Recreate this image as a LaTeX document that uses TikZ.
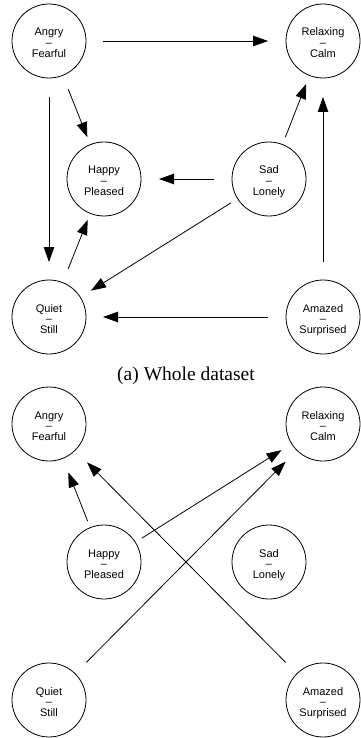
\documentclass[tikz,border=0pt]{standalone}
\usepackage{fontspec}
\setmainfont{Liberation Serif}
\newfontfamily\labelfont{Liberation Sans}
\usetikzlibrary{arrows.meta}
\newcommand\emotxt[2]{\rule{0pt}{11.4pt}\smash{#1}\\–\\\smash{#2}}
\begin{document}
\begin{tikzpicture}[x=1pt,y=-1pt,
  emo/.style={circle,draw,line width=0.8pt,minimum size=74pt,inner sep=0pt,outer sep=0pt,
    align=center,font=\labelfont\fontsize{11}{10.7}\selectfont},
  edge/.style={line width=0.8pt,-{Triangle[length=15pt,width=10.5pt]}},
  captionstyle/.style={font=\fontsize{19.5}{23}\selectfont,anchor=base,inner sep=0pt}]
\useasboundingbox (0,0) rectangle (360,738);
% (a) whole dataset
\node[emo] (A) at (49,41) {\emotxt{Angry}{Fearful}};
\node[emo] (R) at (323,41) {\emotxt{Relaxing}{Calm}};
\node[emo] (H) at (104,179) {\emotxt{Happy}{Pleased}};
\node[emo] (S) at (269,179) {\emotxt{Sad}{Lonely}};
\node[emo] (Q) at (49,317) {\emotxt{Quiet}{Still}};
\node[emo] (Z) at (323,317) {\emotxt{Amazed}{Surprised}};
\draw[edge,shorten <=17pt,shorten >=18pt] (A) -- (R);
\draw[edge,shorten <=15pt,shorten >=8pt] (A) -- (H);
\draw[edge,shorten <=19pt,shorten >=18pt] (A) -- (Q);
\draw[edge,shorten <=15pt,shorten >=7pt] (Q) -- (H);
\draw[edge,shorten <=18pt,shorten >=18pt] (S) -- (H);
\draw[edge,shorten <=8pt,shorten >=9pt] (S) -- (R);
\draw[edge,shorten <=8pt,shorten >=12.5pt] (S) -- (Q);
\draw[edge,shorten <=18pt,shorten >=17pt] (Z) -- (Q);
\draw[edge,shorten <=18pt,shorten >=19pt] (Z) -- (R);
\node[captionstyle] (cap) at (186,380) {(a) Whole dataset};
% second graph
\node[emo] (A2) at (49,424) {\emotxt{Angry}{Fearful}};
\node[emo] (R2) at (323,424) {\emotxt{Relaxing}{Calm}};
\node[emo] (H2) at (104,562) {\emotxt{Happy}{Pleased}};
\node[emo] (S2) at (269,562) {\emotxt{Sad}{Lonely}};
\node[emo] (Q2) at (49,700) {\emotxt{Quiet}{Still}};
\node[emo] (Z2) at (323,700) {\emotxt{Amazed}{Surprised}};
\draw[edge,shorten <=7pt,shorten >=15pt] (H2) -- (A2);
\draw[edge,shorten <=8pt,shorten >=12pt] (H2) -- (R2);
\draw[edge,shorten <=16pt,shorten >=16pt] (Q2) -- (R2);
\draw[edge,shorten <=16pt,shorten >=17pt] (Z2) -- (A2);
\end{tikzpicture}
\end{document}
